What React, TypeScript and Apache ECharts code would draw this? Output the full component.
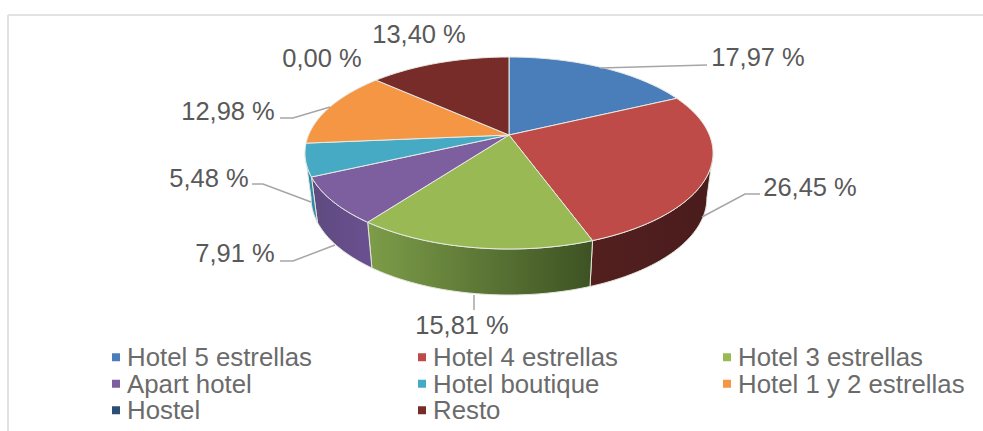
import React, { useEffect, useRef } from "react";
import * as echarts from "echarts";

const categories = ["Hotel 5 estrellas", "Hotel 4 estrellas", "Hotel 3 estrellas", "Apart hotel", "Hotel boutique", "Hotel 1 y 2 estrellas", "Hostel", "Resto"];
const values = [17.97, 26.45, 15.81, 7.91, 5.48, 12.98, 0.0, 13.4];
const topColors = ["#4a7ebb", "#be4b48", "#98b954", "#7d5fa0", "#46aac4", "#f59645", "#2c4d75", "#772c2a"];
const wallStops: (string[] | null)[] = [null, ["#531f1f", "#4a1c1c"], ["#7d9d49", "#3d5223"], ["#5f4a80", "#6a5090"], ["#2f8aa8", "#2f8aa8"], null, null, null];

const labelBoxes = [
  { x: 758, y: 57 }, { x: 810, y: 187 }, { x: 462, y: 325 }, { x: 235, y: 253 },
  { x: 209, y: 178 }, { x: 228, y: 111 }, { x: 322, y: 58 }, { x: 419, y: 34 },
];
const leaders: (number[][] | null)[] = [
  [[600, 68], [707, 65]],
  [[702, 217], [745, 194], [760, 194]],
  [[474, 295], [474, 310]],
  [[335, 245], [293, 261], [280, 261]],
  [[311, 202], [263, 184], [252, 184]],
  [[330, 107], [293, 118], [280, 118]],
  null,
  null,
];

// projective view of the pie plane
const CX = 509, CY = 135, K = 200.4, B = -67.3, C = 0.1875;
const RIM_CX = 508.5, RIM_CY = 153, FLOOR_CY = 198, FLOOR_SX = 0.97, FLOOR_SY = 97 / 96;
const project = (theta: number): number[] => {
  const s = Math.sin(theta), u = Math.cos(theta), w = 1 + C * u;
  return [CX + (K * s) / w, (CY + B * u) / w];
};
const projectFloor = (theta: number): number[] => {
  const [x, y] = project(theta);
  return [RIM_CX + (x - RIM_CX) * FLOOR_SX, FLOOR_CY + (y - RIM_CY) * FLOOR_SY];
};
const total = values.reduce((a, b) => a + b, 0);
const cumBefore = (i: number) => values.slice(0, i).reduce((a, b) => a + b, 0);
const arc = (a: number, b: number, fn = project) => {
  const n = Math.max(2, Math.ceil(((b - a) * 180) / Math.PI));
  const pts: number[][] = [];
  for (let i = 0; i <= n; i++) pts.push(fn(a + ((b - a) * i) / n));
  return pts;
};
const WALL_FROM = Math.acos(-C), WALL_TO = 2 * Math.PI - Math.acos(-C);

const fmt = (v: number) => v.toFixed(2).replace(".", ",") + " %";

const makeRender = (idx: number) => (_params: any, api: any) => {
  const v = api.value(0) as number;
  if (!v) return { type: "group", children: [] };
  const a = (cumBefore(idx) / total) * 2 * Math.PI;
  const b = a + (v / total) * 2 * Math.PI;
  const children: any[] = [];
  const wa = Math.max(a, WALL_FROM), wb = Math.min(b, WALL_TO);
  const stops = wallStops[idx];
  if (wb > wa && stops) {
    const top = arc(wa, wb);
    const bottom = arc(wa, wb, projectFloor).reverse();
    children.push({
      type: "polygon",
      shape: { points: top.concat(bottom) },
      style: {
        fill: new echarts.graphic.LinearGradient(0, 0, 1, 0, [
          { offset: 0, color: stops[0] },
          { offset: 1, color: stops[1] },
        ]),
        stroke: "#e4e6dc",
        lineWidth: 1,
      },
    });
  }
  children.push({
    type: "polygon",
    shape: { points: [[CX, CY] as number[]].concat(arc(a, b)) },
    style: { fill: topColors[idx], stroke: "#e8ebe4", lineWidth: 1 },
  });
  return { type: "group", children };
};

const legendColumns = [
  { left: 112, names: [0, 3, 6] },
  { left: 418, names: [1, 4, 7] },
  { left: 723, names: [2, 5] },
];

export default function App() {
  const ref = useRef<HTMLDivElement>(null);
  useEffect(() => {
    document.body.style.margin = "0";
    const chart = echarts.init(ref.current!, undefined, { renderer: "svg" });
    const graphics: any[] = [
      { type: "line", shape: { x1: 8, y1: 15, x2: 983, y2: 15 }, style: { stroke: "#e2e2e2", lineWidth: 2 } },
      { type: "line", shape: { x1: 8, y1: 15, x2: 8, y2: 431 }, style: { stroke: "#e2e2e2", lineWidth: 2 } },
    ];
    leaders.forEach((pts) => {
      if (pts) graphics.push({ type: "polyline", z: 5, shape: { points: pts }, style: { fill: "none", stroke: "#a6a6a6", lineWidth: 1.5 } });
    });
    values.forEach((v, i) => {
      graphics.push({
        type: "text",
        z: 6,
        x: labelBoxes[i].x,
        y: labelBoxes[i].y,
        style: { text: fmt(v), fill: "#595959", font: '25.5px "Liberation Sans"', align: "center", verticalAlign: "middle" },
      });
    });
    chart.setOption({
      animation: false,
      backgroundColor: "#ffffff",
      color: topColors,
      legend: legendColumns.map((c) => ({
        orient: "vertical",
        left: c.left,
        top: 344,
        padding: 0,
        itemWidth: 8,
        itemHeight: 8,
        itemGap: 0,
        icon: "rect",
        selectedMode: false,
        data: c.names.map((i) => categories[i]),
        textStyle: { color: "#6b6b6b", fontFamily: "Liberation Sans", fontSize: 25.8, lineHeight: 26.5, padding: [0, 0, 0, 2] },
      })),
      graphic: graphics,
      series: categories.map((name, i) => ({
        type: "custom",
        name,
        coordinateSystem: "none",
        silent: true,
        itemStyle: { color: topColors[i] },
        data: [[values[i]]],
        renderItem: makeRender(i),
      })),
    });
    return () => chart.dispose();
  }, []);
  return <div ref={ref} style={{ position: "absolute", left: 0, top: 0, width: 983, height: 431 }} />;
}
